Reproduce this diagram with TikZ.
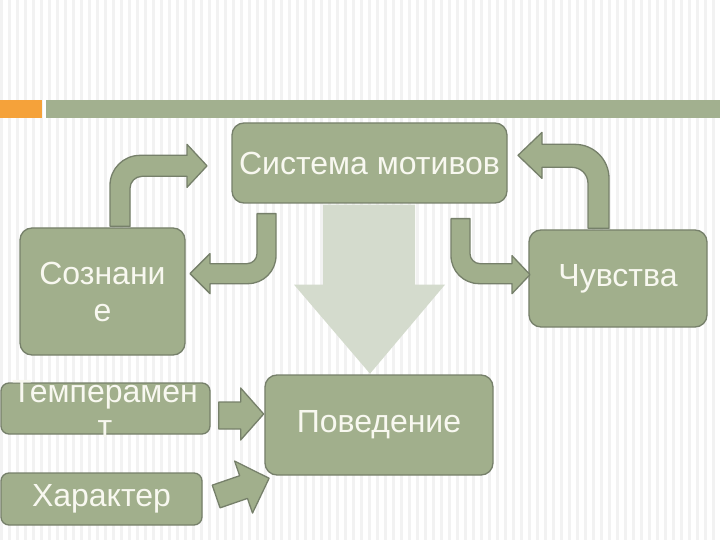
\documentclass[tikz,border=0pt]{standalone}
\usepackage{fontspec}
\setmainfont{Liberation Sans}
\usetikzlibrary{arrows.meta}
\definecolor{sage}{HTML}{A1AF8C}
\definecolor{sagedark}{HTML}{76806A}
\definecolor{sagelight}{HTML}{D4DBCD}
\definecolor{barorange}{HTML}{F5A23A}
\definecolor{bargreen}{HTML}{A2B08F}
\definecolor{txtwhite}{HTML}{F8F8F0}

\begin{document}
\begin{tikzpicture}[x=1pt,y=-1pt]
	\tikzstyle{bx}=[draw=sagedark,fill=sage,line width=1.3pt,rounded corners=12pt,text=txtwhite,font=\fontsize{32}{37}\selectfont,align=center,inner sep=0pt]
	\tikzstyle{tx}=[text=txtwhite,font=\fontsize{32}{35}\selectfont,align=center,inner sep=0pt]
	\tikzstyle{ar}=[draw=sagedark,fill=sage,line width=1.3pt,line join=round]
	\useasboundingbox (0,0) rectangle (720,540);
	\fill [white] (0,0) rectangle (720,540);
	\foreach \i in {0,8,...,720}
		\fill [black!5] (\i,0) rectangle (\i+2.5,540);
	\fill [barorange] (0,100) rectangle (42,118);
	\fill [bargreen] (46,100) rectangle (720,118);
				\node [bx,minimum width=275pt,minimum height=80pt] (sys) at (369.5,163) {Система мотивов};
				\node [bx,minimum width=165pt,minimum height=127pt] (soz) at (102.5,291.5) {Сознани\\е};
				\node [bx,minimum width=178pt,minimum height=97pt] (chu) at (618,278.5) {Чувства};
				\node [bx,minimum width=209pt,minimum height=51pt,rounded corners=8pt] (tem) at (105.5,408.5) {};
				\node [tx] (temt) at (105,409) {Темперамен\\т};
				\node [bx,minimum width=201pt,minimum height=52pt,rounded corners=8pt] (har) at (101.5,499) {Характер};
				\node [bx,minimum width=228pt,minimum height=100pt] (pov) at (379,425) {Поведение};
				\fill [sagelight] ([xshift=-46.5pt,yshift=-1pt]sys.south) -- ++(92,0) -- ++(0,80) -- ++(30,0) -- ++(-75,89) -- ++(-76,-89) -- ++(29,0) -- cycle;
				\draw [ar] ([xshift=7.5pt,yshift=1pt]soz.north) -- ++(0,-41) arc[start angle=180,end angle=90,radius=30pt] -- ++(47,0) -- ++(0,-11) -- ++(20,21.5) -- ++(-20,21.5) -- ++(0,-11) -- ++(-45,0) arc[start angle=90,end angle=180,radius=12pt] -- ++(0,38) -- cycle;
				\draw [ar] ([xshift=-112.5pt,yshift=-10pt]sys.south) -- ++(19,0) -- ++(0,42) arc[start angle=0,end angle=-90,radius=28pt] -- ++(-38,0) -- ++(0,10) -- ++(-20,-20) -- ++(20,-20) -- ++(0,10) -- ++(37,0) arc[start angle=-90,end angle=0,radius=10pt] -- cycle;
				\draw [ar] ([xshift=81.5pt,yshift=-15pt]sys.south) -- ++(19,0) -- ++(0,35) arc[start angle=180,end angle=270,radius=10pt] -- ++(32,0) -- ++(0,-8) -- ++(18,19) -- ++(-18,19) -- ++(0,-10) -- ++(-33,0) arc[start angle=270,end angle=180,radius=28pt] -- cycle;
				\draw [ar] ([xshift=-30pt,yshift=1pt]chu.north) -- ++(21,0) -- ++(0,-50) arc[start angle=0,end angle=90,radius=34pt] -- ++(-33,0) -- ++(0,-12) -- ++(-24,23) -- ++(24,23) -- ++(0,-11) -- ++(30,0) arc[start angle=90,end angle=0,radius=16pt] -- cycle;
				\draw [ar] ([xshift=8pt,yshift=6.5pt]tem.east) -- ++(22,0) -- ++(0,-14) -- ++(23,26) -- ++(-23,26) -- ++(0,-11) -- ++(-22,0) -- cycle;
				\draw [ar,shift={([xshift=13.5pt,yshift=2.5pt]har.east)},rotate=19] (0,-12) -- (29,-12) -- (29,-27.5) -- (56,0) -- (29,27.5) -- (29,12) -- (0,12) -- cycle;
	\end{tikzpicture}
\end{document}
